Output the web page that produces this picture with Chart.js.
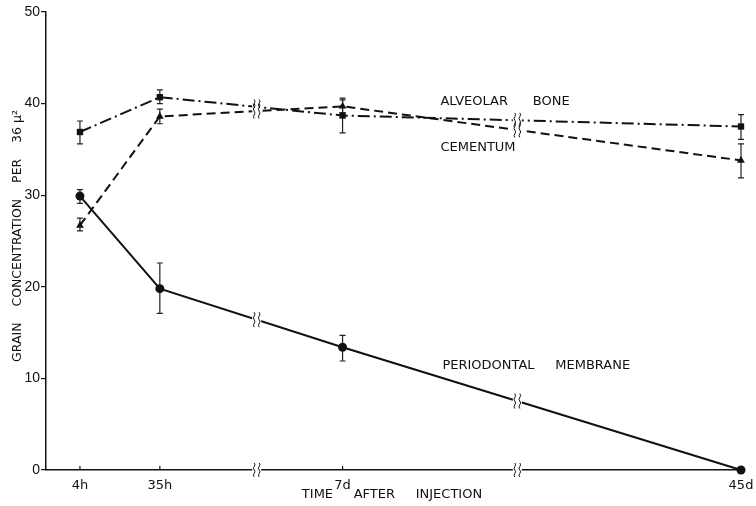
<!DOCTYPE html>
<html>
<head>
<meta charset="utf-8">
<script src="https://cdn.jsdelivr.net/npm/chart.js@4.4.0/dist/chart.umd.min.js"></script>
<style>
  html, body { margin: 0; padding: 0; background: #fff; }
  #wrap { width: 756px; height: 506px; }
</style>
</head>
<body>
<div id="wrap"><canvas id="c"></canvas></div>
<script>
// Sampling times and their places along the broken time axis
const timeLabels = ['4h', '35h', '7d', '45d'];
const timePos = [0, 8.0, 26.3, 66.2];
const breakPos = [17.7, 43.8];

// Grain concentration per 36 µ² (mean, lower and upper error limits)
const periodontal     = [29.9, 19.8, 13.4, 0];
const periodontalLow  = [29.1, 17.1, 11.9, null];
const periodontalHigh = [30.6, 22.6, 14.7, null];

const alveolar     = [36.9, 40.7, 38.7, 37.5];
const alveolarLow  = [35.6, 40.0, 36.8, 36.1];
const alveolarHigh = [38.1, 41.5, 40.4, 38.8];

const cementum     = [26.7, 38.6, 39.7, 33.8];
const cementumLow  = [26.1, 37.8, 39.0, 31.9];
const cementumHigh = [27.5, 39.4, 40.6, 35.6];

const yTicks = [0, 10, 20, 30, 40, 50];

const FONT = '"DejaVu Sans", "Liberation Sans", Arial, sans-serif';
const TICK_FONT = '"Liberation Sans", Arial, sans-serif';
const INK = '#111';

function points(values) {
  return values.map((v, i) => ({ x: timePos[i], y: v }));
}

const series = [
  { label: 'PERIODONTAL     MEMBRANE', values: periodontal, low: periodontalLow, high: periodontalHigh,
    style: 'circle', radius: 4.5, dash: [], textAt: { x: 36.3, y: 11.35 } },
  { label: 'ALVEOLAR      BONE', values: alveolar, low: alveolarLow, high: alveolarHigh,
    style: 'rect', radius: 4.5, dash: [12, 4, 2, 4], textAt: { x: 36.1, y: 40.2 } },
  { label: 'CEMENTUM', values: cementum, low: cementumLow, high: cementumHigh,
    style: 'triangle', radius: 4.5, dash: [9, 5], textAt: { x: 36.1, y: 35.15 } }
];

// small double squiggle used to mark an interrupted line or axis
function squiggle(ctx, x, y, h) {
  const top = y - h / 2, seg = h / 4;
  ctx.beginPath();
  ctx.moveTo(x, top);
  for (let k = 0; k < 4; k++) {
    const y0 = top + k * seg;
    const dir = k % 2 === 0 ? 1.6 : -1.6;
    ctx.quadraticCurveTo(x + dir, y0 + seg / 2, x, y0 + seg);
  }
  ctx.stroke();
}

function drawBreak(ctx, x, y, h, gap) {
  ctx.save();
  ctx.fillStyle = '#fff';
  ctx.fillRect(x - gap / 2, y - 3, gap, 6);
  ctx.strokeStyle = INK;
  ctx.lineWidth = 1;
  ctx.setLineDash([]);
  squiggle(ctx, x - 2.5, y, h);
  squiggle(ctx, x + 2.5, y, h);
  ctx.restore();
}

function valueAt(values, pos) {
  for (let i = 0; i < timePos.length - 1; i++) {
    if (pos >= timePos[i] && pos <= timePos[i + 1]) {
      const t = (pos - timePos[i]) / (timePos[i + 1] - timePos[i]);
      return values[i] + t * (values[i + 1] - values[i]);
    }
  }
  return null;
}

const brokenAxisPlugin = {
  id: 'brokenAxis',
  beforeDatasetsDraw(chart) {
    const { ctx, scales: { x, y } } = chart;
    ctx.save();
    ctx.strokeStyle = '#222';
    ctx.lineWidth = 1.2;
    series.forEach(s => {
      s.values.forEach((v, i) => {
        if (s.low[i] == null) return;
        const px = x.getPixelForValue(timePos[i]);
        const y1 = y.getPixelForValue(s.low[i]);
        const y2 = y.getPixelForValue(s.high[i]);
        ctx.beginPath();
        ctx.moveTo(px, y1); ctx.lineTo(px, y2);
        ctx.moveTo(px - 3, y1); ctx.lineTo(px + 3, y1);
        ctx.moveTo(px - 3, y2); ctx.lineTo(px + 3, y2);
        ctx.stroke();
      });
    });
    ctx.restore();
  },
  afterDatasetsDraw(chart) {
    const { ctx, scales: { x, y } } = chart;
    // interruptions on each curve
    breakPos.forEach(b => {
      series.forEach(s => {
        const v = valueAt(s.values, b);
        if (v == null) return;
        drawBreak(ctx, x.getPixelForValue(b), y.getPixelForValue(v), 15, 9);
      });
    });
    // short upward ticks on the time axis
    const base = y.getPixelForValue(0);
    ctx.save();
    ctx.strokeStyle = INK;
    ctx.lineWidth = 1.2;
    timePos.slice(0, 3).forEach(p => {
      const px = x.getPixelForValue(p);
      ctx.beginPath();
      ctx.moveTo(px, base); ctx.lineTo(px, base - 4);
      ctx.stroke();
    });
    ctx.restore();
    // interruptions on the time axis
    breakPos.forEach(b => drawBreak(ctx, x.getPixelForValue(b), base, 14, 9));
  },
  afterDraw(chart) {
    const { ctx, scales: { x, y } } = chart;
    ctx.save();
    ctx.fillStyle = INK;
    ctx.font = '13px ' + FONT;
    ctx.textBaseline = 'middle';
    ctx.textAlign = 'left';
    series.forEach(s => {
      ctx.fillText(s.label, x.getPixelForValue(s.textAt.x), y.getPixelForValue(s.textAt.y));
    });
    // axis titles
    ctx.textAlign = 'center';
    ctx.fillText('TIME     AFTER     INJECTION', 392, 495);
    ctx.font = '12.5px ' + FONT;
    ctx.translate(18, 236);
    ctx.rotate(-Math.PI / 2);
    ctx.fillText('GRAIN    CONCENTRATION    PER    36 \u03BC\u00B2', 0, 0);
    ctx.restore();
  }
};

const datasets = series.map(s => ({
  label: s.label,
  data: points(s.values),
  borderColor: INK,
  backgroundColor: INK,
  borderWidth: 2,
  borderDash: s.dash,
  pointStyle: s.style,
  pointRadius: s.radius,
  pointBorderWidth: 0,
  pointBackgroundColor: INK,
  tension: 0,
  fill: false,
  clip: false
}));

new Chart(document.getElementById('c'), {
  type: 'line',
  data: { datasets },
  options: {
    responsive: true,
    maintainAspectRatio: false,
    animation: false,
    layout: { padding: { top: 12, right: 15, bottom: 0, left: 0 } },
    plugins: { legend: { display: false }, tooltip: { enabled: false } },
    scales: {
      x: {
        type: 'linear',
        min: -3.4,
        max: 66.2,
        afterBuildTicks: scale => { scale.ticks = timePos.map(v => ({ value: v })); },
        afterFit: scale => { scale.height = 36; scale.paddingLeft = 0; scale.paddingRight = 0; },
        ticks: {
          autoSkip: false,
          maxRotation: 0,
          padding: 8,
          color: INK,
          font: { family: FONT, size: 13 },
          callback: v => timeLabels[timePos.indexOf(v)] ?? ''
        },
        grid: { display: true, drawOnChartArea: false, drawTicks: false, color: 'rgba(0,0,0,0)' },
        border: { display: true, color: INK, width: 1.5 }
      },
      y: {
        type: 'linear',
        min: 0,
        max: 50,
        afterBuildTicks: scale => { scale.ticks = yTicks.map(v => ({ value: v })); },
        afterFit: scale => { scale.width = 46; scale.paddingTop = 0; scale.paddingBottom = 0; },
        ticks: {
          padding: 1,
          color: INK,
          font: { family: TICK_FONT, size: 14 }
        },
        grid: { drawOnChartArea: false, drawTicks: true, tickLength: 5, color: INK, lineWidth: 1.2 },
        border: { display: true, color: INK, width: 1.5 }
      }
    }
  },
  plugins: [brokenAxisPlugin]
});
</script>
</body>
</html>
